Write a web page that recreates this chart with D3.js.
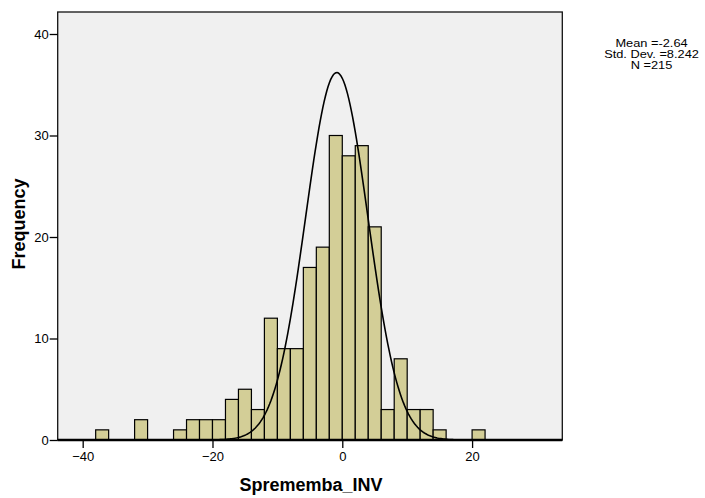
<!DOCTYPE html>
<html>
<head>
<meta charset="utf-8">
<script src="https://cdn.jsdelivr.net/npm/d3@7"></script>
<style>
  body { margin: 0; background: #fff; }
  text { font-family: "Liberation Sans", Arial, sans-serif; }
</style>
</head>
<body>
<script>
// histogram bins (left edge of each 2-unit bin) and counts
const binStart = [-38, -32, -26, -24, -22, -20, -18, -16, -14, -12, -10, -8, -6, -4, -2, 0, 2, 4, 6, 8, 10, 12, 14, 20];
const counts   = [  1,   2,   1,   2,   2,   2,   4,   5,   3,  12,   9,  9, 17, 19, 30, 28, 29, 21, 3, 8, 3, 3, 1, 1];
const binWidth = 2;

const xTicks = [-40, -20, 0, 20];
const yTicks = [0, 10, 20, 30, 40];

// fitted normal curve as drawn (centre, spread, peak height)
const curveCentre = -0.85;
const curveSd = 4.8;
const curvePeak = 36.2;

const statLines = ['Mean =-2.64', 'Std. Dev. =8.242', 'N =215'];

let width = 705,
    height = 498,
    plot = { left: 57.7, right: 562.3, top: 12, bottom: 440 };

let svg = d3.select('body').append('svg')
    .attr('width', width)
    .attr('height', height);

let x = d3.scaleLinear().domain([-43.85, 33.9]).range([plot.left, plot.right]);
let y = d3.scaleLinear().domain([0, 40]).range([440, 34]);

// plot background
svg.append('rect')
    .attr('x', plot.left).attr('y', plot.top)
    .attr('width', plot.right - plot.left)
    .attr('height', plot.bottom - plot.top)
    .attr('fill', '#f0f0f0');

// bars
svg.selectAll('.bar')
    .data(binStart.map((s, i) => ({ s, n: counts[i] })))
    .enter().append('rect')
    .attr('class', 'bar')
    .attr('x', d => x(d.s))
    .attr('y', d => y(d.n))
    .attr('width', d => x(d.s + binWidth) - x(d.s))
    .attr('height', d => y(0) - y(d.n))
    .attr('fill', '#d3ce97')
    .attr('stroke', '#000')
    .attr('stroke-width', 1.2);

// normal curve
let curvePts = d3.range(-43.8, 33.9, 0.2).map(v => [v, curvePeak * Math.exp(-0.5 * Math.pow((v - curveCentre) / curveSd, 2))]);
svg.append('path')
    .datum(curvePts)
    .attr('fill', 'none')
    .attr('stroke', '#000')
    .attr('stroke-width', 1.6)
    .attr('d', d3.line().x(d => x(d[0])).y(d => y(d[1])));

// frame
svg.append('rect')
    .attr('x', plot.left).attr('y', plot.top)
    .attr('width', plot.right - plot.left)
    .attr('height', plot.bottom - plot.top)
    .attr('fill', 'none')
    .attr('stroke', '#111')
    .attr('stroke-width', 1.3);

// axes
let xAxis = svg.append('g')
    .attr('transform', `translate(0,${plot.bottom})`)
    .call(d3.axisBottom(x).tickValues(xTicks).tickSize(8).tickPadding(4).tickSizeOuter(0));
let yAxis = svg.append('g')
    .attr('transform', `translate(${plot.left},0)`)
    .call(d3.axisLeft(y).tickValues(yTicks).tickSize(8).tickPadding(1).tickSizeOuter(0));

[xAxis, yAxis].forEach(g => {
    g.select('.domain').remove();
    g.selectAll('line').attr('stroke', '#000').attr('stroke-width', 1.3);
    g.selectAll('text').attr('font-size', 13).attr('fill', '#000')
        .style('font-family', '"Liberation Sans", Arial, sans-serif');
});

svg.append('line')
    .attr('x1', plot.left).attr('x2', plot.right)
    .attr('y1', plot.bottom).attr('y2', plot.bottom)
    .attr('stroke', '#000').attr('stroke-width', 2.4);

// axis titles
svg.append('text')
    .attr('x', 311).attr('y', 491)
    .attr('text-anchor', 'middle')
    .attr('font-size', 18).attr('font-weight', 'bold')
    .text('Sprememba_INV');

svg.append('text')
    .attr('transform', 'translate(25,224) rotate(-90)')
    .attr('text-anchor', 'middle')
    .attr('font-size', 18).attr('font-weight', 'bold')
    .text('Frequency');

// stats box (text in the reference is drawn a little wide)
let stats = svg.append('g')
    .attr('transform', 'translate(651.5,0) scale(1.22,1)');
stats.selectAll('.stat')
    .data(statLines)
    .enter().append('text')
    .attr('class', 'stat')
    .attr('x', 0)
    .attr('y', (d, i) => 47 + i * 11.2)
    .attr('text-anchor', 'middle')
    .attr('font-size', 10.5)
    .text(d => d);
</script>
</body>
</html>
